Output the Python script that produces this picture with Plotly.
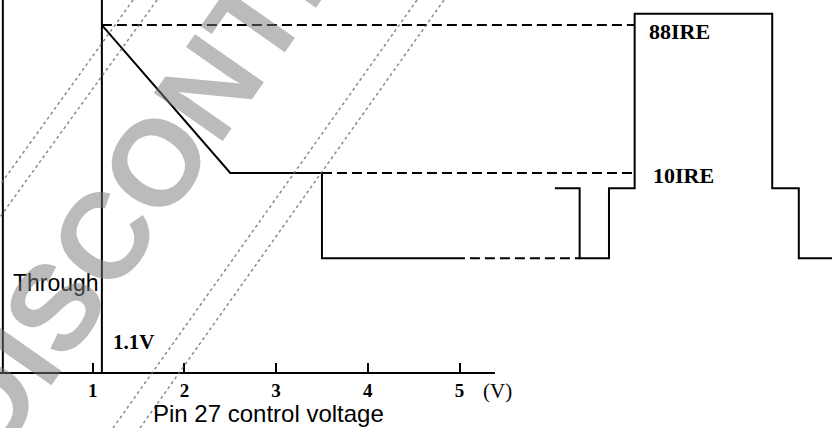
import plotly.graph_objects as go

# ---- data (x: pin 27 control voltage in V, y: output level in IRE-like units) ----
curve_v = [1.1, 2.5, 3.5]
curve_ire = [88, 10, 10]

sync_solid_v = [3.5, 3.5, 4.95]
sync_solid_ire = [10, -35, -35]
sync_dash_v = [4.95, 6.31]
sync_dash_ire = [-35, -35]

wave_v = [6.04, 6.31, 6.31, 6.63, 6.63, 6.91, 6.91, 8.41, 8.41, 8.70, 8.70, 9.3]
wave_ire = [2, 2, -35, -35, 2, 2, 94, 94, 2, 2, -35, -35]

ref_levels = [88, 10]
ref_start = [1.1, 3.5]
ref_end = [6.91, 6.91]
ref_labels = ["88IRE", "10IRE"]

bound_v = [0.02, 1.1]
y_top = 101.2
y_bottom = -94.9
x_left = -0.011
px_per_v = 91.7

tick_vals = [1, 2, 3, 4, 5]
tick_text = ["1", "2", "3", "4", "5"]
axis_end_v = 5.387

W, H = 832, 428
MB = 56

fig = go.Figure()

blk = dict(color="black", width=2)

# boundary verticals (0 V and 1.1 V)
for v in bound_v:
    fig.add_trace(go.Scatter(x=[v, v], y=[y_bottom, y_top + 5], mode="lines", line=blk,
                             hoverinfo="skip", showlegend=False))

# reference dashed levels
for lvl, x0, x1 in zip(ref_levels, ref_start, ref_end):
    fig.add_trace(go.Scatter(x=[x0, x1], y=[lvl, lvl], mode="lines",
                             line=dict(color="black", width=2, dash="10px,5px"),
                             hoverinfo="skip", showlegend=False))

fig.add_trace(go.Scatter(x=curve_v, y=curve_ire, mode="lines", line=blk, showlegend=False))
fig.add_trace(go.Scatter(x=sync_solid_v, y=sync_solid_ire, mode="lines", line=blk, showlegend=False))
fig.add_trace(go.Scatter(x=sync_dash_v, y=sync_dash_ire, mode="lines",
                         line=dict(color="black", width=2, dash="10px,5px"), showlegend=False))
fig.add_trace(go.Scatter(x=wave_v, y=wave_ire, mode="lines", line=blk, showlegend=False))

# invisible trace to carry the short voltage axis
fig.add_trace(go.Scatter(x=[1, 5], y=[0, 0], xaxis="x2", mode="lines",
                         line=dict(width=0), hoverinfo="skip", showlegend=False))

plot_w = W
x_right = x_left + plot_w / px_per_v
axis_frac = (axis_end_v - x_left) * px_per_v / plot_w

fig.update_layout(
    width=W, height=H,
    margin=dict(l=0, r=0, t=0, b=MB, autoexpand=False),
    paper_bgcolor="white", plot_bgcolor="rgba(0,0,0,0)",
    xaxis=dict(range=[x_left, x_right], visible=False, domain=[0, 1]),
    xaxis2=dict(range=[x_left, axis_end_v], domain=[0, axis_frac], anchor="y",
                side="bottom", automargin=False,
                showline=True, linecolor="black", linewidth=2,
                showgrid=False, zeroline=False,
                ticks="inside", ticklen=9, tickwidth=1.5, tickcolor="black",
                tickvals=tick_vals, ticktext=tick_text, ticklabelstandoff=0,
                tickfont=dict(family="Liberation Serif", size=19, weight="bold", color="black")),
    yaxis=dict(range=[y_bottom, y_top], visible=False),
)


def pp(px, py):
    return px / W, (H - MB - py) / (H - MB)


serif = dict(family="Liberation Serif", size=22, weight="bold", color="black")
sans = dict(family="Liberation Sans", size=23, color="black")

for lbl, lvl, xv in zip(ref_labels, [84.5, 8.5], [7.05, 7.09]):
    fig.add_annotation(x=xv, y=lvl, text=lbl, showarrow=False, xanchor="left",
                       yanchor="middle", font=serif)

fig.add_annotation(x=0.11, y=-48, text="Through", showarrow=False, xanchor="left",
                   yanchor="middle", font=sans)
fig.add_annotation(x=1.2, y=-79, text="1.1V", showarrow=False, xanchor="left",
                   yanchor="middle", font=dict(family="Liberation Serif", size=21, weight="bold",
                                               color="black"))

vx, vy = pp(497, 391)
fig.add_annotation(xref="paper", yref="paper", x=vx, y=vy, text="(V)", showarrow=False,
                   xanchor="center", yanchor="middle",
                   font=dict(family="Liberation Serif", size=21, color="black"))
tx, ty = pp(268, 414)
fig.add_annotation(xref="paper", yref="paper", x=tx, y=ty, text="Pin 27 control voltage",
                   showarrow=False, xanchor="center", yanchor="middle",
                   font=dict(family="Liberation Sans", size=24, color="black"))

# ---- watermark (decorative) ----
for (ax, ay), (bx, by) in [((133, 0), (0, 185)), ((157, 0), (0, 217)),
                           ((417, 0), (113, 428)), ((444, 0), (140, 428))]:
    x0, y0 = pp(ax, ay)
    x1, y1 = pp(bx, by)
    fig.add_shape(type="line", xref="paper", yref="paper", x0=x0, y0=y0, x1=x1, y1=y1,
                  line=dict(color="rgba(110,110,110,0.8)", width=1.5, dash="dot"))

wx, wy = pp(228, 60)
fig.add_annotation(xref="paper", yref="paper", x=wx, y=wy, text="DISCONTINUED",
                   showarrow=False, textangle=-55, xanchor="center", yanchor="middle",
                   font=dict(family="Liberation Sans", size=122, weight="bold",
                             color="rgba(120,120,120,0.5)"))

fig.write_html("out.html", config={"displayModeBar": False},
               post_script="document.body.style.margin='0';document.body.style.padding='0';")
